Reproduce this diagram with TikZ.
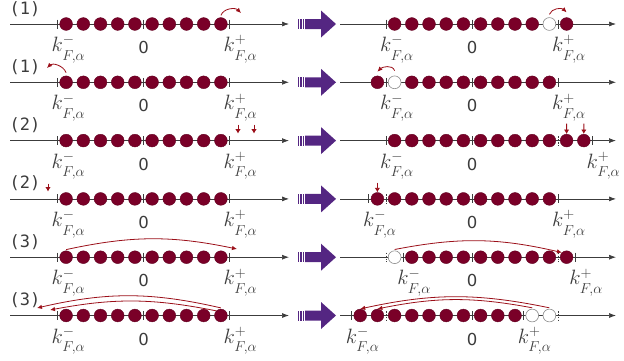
\documentclass[tikz,border=0pt]{standalone}
\usepackage{fontspec}
\setmainfont{DejaVu Sans}
\setmonofont{DejaVu Sans Mono}
\usepackage{tikz}
\usetikzlibrary{arrows.meta,positioning,calc}
\definecolor{mymaroon}{RGB}{122,0,40}
\definecolor{myred}{RGB}{155,15,25}
\definecolor{mypurple}{RGB}{84,38,130}
\definecolor{mygray}{RGB}{60,60,60}
\newcommand\kminus{$k^-_{\raisebox{-3.5pt}{$\scriptstyle F,\alpha$}}$}
\newcommand\kplus{$k^+_{\raisebox{-3.5pt}{$\scriptstyle F,\alpha$}}$}

\begin{document}
\begin{tikzpicture}[x=1pt, y=-1pt,
  elec/.style={circle, fill=mymaroon, draw=mymaroon!80!black, line width=0.4pt,
               minimum size=12.8pt, inner sep=0pt},
  hole/.style={circle, fill=white, draw=black!45, line width=0.6pt,
               minimum size=12.8pt, inner sep=0pt},
  axis/.style={mygray, line width=0.7pt, -{Latex[length=7pt, width=5pt]}},
  tickmark/.style={mygray, line width=0.7pt},
  dashtick/.style={mygray, line width=0.7pt, dash pattern=on 1.6pt off 1.3pt},
  hop/.style={myred, line width=0.8pt, -{Latex[length=5pt, width=4.5pt]}},
  fall/.style={myred, line width=1pt, -{Latex[length=4.5pt, width=5.5pt]}},
  klab/.style={anchor=base west, inner sep=0pt, text=mygray,
               font=\fontsize{22}{22}\selectfont},
  zlab/.style={anchor=base, inner sep=0pt, text=mygray,
               font=\fontsize{16.5}{16.5}\selectfont},
  rowtag/.style={anchor=base, inner sep=0pt, text=mygray,
                 font=\ttfamily\fontsize{17}{17}\selectfont}]
  \useasboundingbox (0,0) rectangle (624,360);

  % Left side, the same in every row
  \foreach \r/\t in {1/1,2/1,3/2,4/2,5/3,6/3}{
    \pgfmathsetmacro\Y{24+58.3*(\r-1)}
    \node[rowtag] (tag\r) at (25,\Y-10) {(\t)};
    \coordinate (la\r) at (10,\Y);
    \coordinate (lb\r) at (289,\Y);
    \draw[axis] (la\r) -- (lb\r);
    \foreach \x in {57.5,143.5,229.5}
      \draw[tickmark] (\x,\Y-4.5) -- (\x,\Y+4.5);
    \foreach \k in {0,...,9}
      \node[elec] (a\r-\k) at ({66.1+17.2*\k},\Y) {};
    \node[klab] (akm\r) at (51.5,\Y+27.5) {\kminus};
    \node[zlab] (az\r) at (143.5,\Y+29.5) {0};
    \node[klab] (akp\r) at (223.5,\Y+27.5) {\kplus};
    % Big arrow
    \foreach \s in {297.5,300.2,302.9}
      \fill[mypurple] (\s,\Y-5) rectangle +(1.3,10);
    \fill[mypurple] (305,\Y-5) -- (321,\Y-5) -- (321,\Y-13.5) -- (336,\Y)
      -- (321,\Y+13.5) -- (321,\Y+5) -- (305,\Y+5) -- cycle;
    \coordinate (ra\r) at (340,\Y);
    \coordinate (rb\r) at (616,\Y);
    \draw[axis] (ra\r) -- (rb\r);
  }

  % Row 1
  \coordinate (e1) at (241,13);
  \draw[hop] ([yshift=2pt]a1-9.north) to[out=70,in=135] (e1);
  \foreach \x in {386,472,558}
    \draw[tickmark] (\x,19.5) -- (\x,28.5);
  \foreach \k in {0,...,8}
    \node[elec] (b1-\k) at ({394.6+17.2*\k},24) {};
  \node[hole] (b1-9) at (549.4,24) {};
  \node[elec] (b1-10) at (566.6,24) {};
  \draw[hop] ([yshift=3pt]b1-9.north) to[out=70,in=135] ([yshift=5pt]b1-10.north);
  \node[klab] (bkm1) at (380,51.5) {\kminus};
  \node[zlab] (bz1) at (472,53.5) {0};
  \node[klab] (bkp1) at (552,51.5) {\kplus};

  % Row 2
  \coordinate (e2) at (47,68);
  \draw[hop] ([yshift=3pt]a2-0.north) to[out=110,in=45] (e2);
  \foreach \x in {386,472,558}
    \draw[tickmark] (\x,77.8) -- (\x,86.8);
  \node[elec] (b2m1) at (377.4,82.3) {};
  \node[hole] (b2-0) at (394.6,82.3) {};
  \foreach \k in {1,...,9}
    \node[elec] (b2-\k) at ({394.6+17.2*\k},82.3) {};
  \draw[hop] ([yshift=5pt]b2-0.north) to[out=110,in=45] ([yshift=4pt]b2m1.north);
  \node[klab] (bkm2) at (380,109.8) {\kminus};
  \node[zlab] (bz2) at (472,111.8) {0};
  \node[klab] (bkp2) at (552,109.8) {\kplus};

  % Row 3
  \coordinate (f3a) at (238,124.6);
  \coordinate (g3a) at (238,133.6);
  \coordinate (f3b) at (254,124.6);
  \coordinate (g3b) at (254,133.6);
  \draw[fall] (f3a) -- (g3a);
  \draw[fall] (f3b) -- (g3b);
  \foreach \x in {386,472,592.4}
    \draw[tickmark] (\x,136.1) -- (\x,145.1);
  \draw[dashtick] (558,136.1) -- (558,145.1);
  \foreach \k in {0,...,11}
    \node[elec] (b3-\k) at ({394.6+17.2*\k},140.6) {};
  \coordinate (f3c) at (566.6,123.6);
  \coordinate (f3d) at (583.8,123.6);
  \draw[fall] (f3c) -- (b3-10.north);
  \draw[fall] (f3d) -- (b3-11.north);
  \node[klab] (bkm3) at (380,168.1) {\kminus};
  \node[zlab] (bz3) at (472,170.1) {0};
  \node[klab] (bkp3) at (586.5,168.1) {\kplus};

  % Row 4
  \coordinate (f4a) at (48,183.5);
  \coordinate (g4a) at (48,191.5);
  \draw[fall] (f4a) -- (g4a);
  \foreach \x in {368.8,472,558}
    \draw[tickmark] (\x,194.4) -- (\x,203.4);
  \draw[dashtick] (386,194.4) -- (386,203.4);
  \node[elec] (b4m1) at (377.4,198.9) {};
  \foreach \k in {0,...,9}
    \node[elec] (b4-\k) at ({394.6+17.2*\k},198.9) {};
  \coordinate (f4b) at (377.4,182.5);
  \draw[fall] (f4b) -- (b4m1.north);
  \node[klab] (bkm4) at (362.8,226.4) {\kminus};
  \node[zlab] (bz4) at (472,228.4) {0};
  \node[klab] (bkp4) at (552,226.4) {\kplus};

  % Row 5
  \coordinate (e5) at (237,249);
  \draw[hop] ([yshift=1pt]a5-0.north) to[bend left=12] (e5);
  \foreach \x in {403.2,472,575.2}
    \draw[tickmark] (\x,252.7) -- (\x,261.7);
  \foreach \x in {386,558}
    \draw[dashtick] (\x,252.7) -- (\x,261.7);
  \node[hole] (b5-0) at (394.6,257.2) {};
  \foreach \k in {1,...,10}
    \node[elec] (b5-\k) at ({394.6+17.2*\k},257.2) {};
  \draw[hop] ([yshift=1pt]b5-0.north) to[bend left=12] (b5-10.north west);
  \node[klab] (bkm5) at (397.2,284.7) {\kminus};
  \node[zlab] (bz5) at (472,286.7) {0};
  \node[klab] (bkp5) at (569.2,284.7) {\kplus};

  % Row 6
  \coordinate (e6a) at (37,308);
  \coordinate (e6b) at (50,310);
  \draw[hop] ([yshift=1pt]a6-9.north) to[bend right=13] (e6a);
  \draw[hop] (a6-9.north west) to[bend right=11] (e6b);
  \foreach \x in {351.6,472,523.6}
    \draw[tickmark] (\x,311) -- (\x,320);
  \foreach \x in {386,558}
    \draw[dashtick] (\x,311) -- (\x,320);
  \node[elec] (b6m2) at (360.2,315.5) {};
  \node[elec] (b6m1) at (377.4,315.5) {};
  \foreach \k in {0,...,7}
    \node[elec] (b6-\k) at ({394.6+17.2*\k},315.5) {};
  \node[hole] (b6-8) at (532.2,315.5) {};
  \node[hole] (b6-9) at (549.4,315.5) {};
  \draw[hop] ([yshift=1pt]b6-9.north) to[bend right=12] (b6m2.north);
  \draw[hop] ([yshift=1pt]b6-8.north) to[bend right=11] (b6m1.north);
  \node[klab] (bkm6) at (345.6,343) {\kminus};
  \node[zlab] (bz6) at (472,345) {0};
  \node[klab] (bkp6) at (517.6,343) {\kplus};
\end{tikzpicture}
\end{document}
